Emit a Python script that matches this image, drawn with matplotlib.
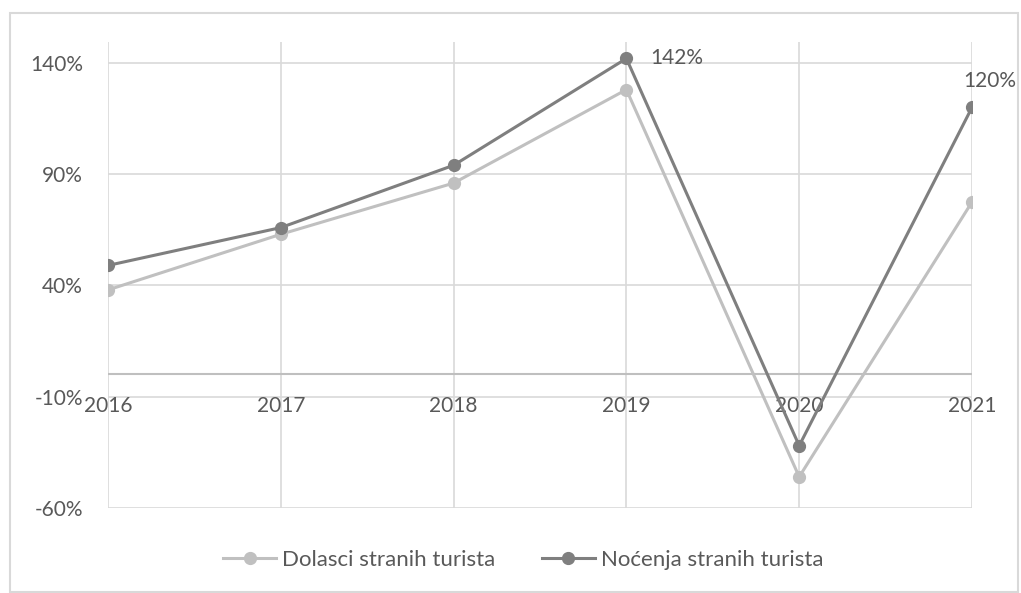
import matplotlib.pyplot as plt
from matplotlib.patches import Rectangle

years = ['2016', '2017', '2018', '2019', '2020', '2021']
dolasci = [38, 63, 86, 128, -46, 77.5]   # Dolasci stranih turista (%)
nocenja = [49, 66, 94, 142, -32, 120]    # Noćenja stranih turista (%)
yticks = [-60, -10, 40, 90, 140]

plt.rcParams['font.family'] = ['Lato', 'DejaVu Sans']

fig = plt.figure(figsize=(10.21, 5.93), dpi=100)
ax = fig.add_axes([108 / 1021, 1 - 508 / 593, (972 - 108) / 1021, (508 - 42) / 593])

# outer chart frame
fig.patches.append(Rectangle((10 / 1021, 0.002), 1008 / 1021, 1 - 13 / 593 - 0.002,
                             transform=fig.transFigure, fill=False,
                             edgecolor='#d9d9d9', linewidth=1.5))

x = list(range(len(years)))
ax.plot(x, dolasci, color='#c0c0c0', lw=2.2, marker='o', ms=8.5,
        label='Dolasci stranih turista', zorder=3)
ax.plot(x, nocenja, color='#7f7f7f', lw=2.2, marker='o', ms=8.5,
        label='Noćenja stranih turista', zorder=4)

ax.set_xlim(0, len(years) - 1)
ax.set_ylim(-60, 149.4)
ax.set_yticks(yticks)
ax.set_yticklabels([f'{v}%' for v in yticks])
ax.set_xticks(x)
ax.set_xticklabels([])
ax.grid(True, color='#d9d9d9', lw=1.2)
ax.set_axisbelow(True)
for s in ax.spines.values():
    s.set_visible(False)
ax.axhline(0, color='#bfbfbf', lw=1.5, zorder=2)
ax.tick_params(axis='both', length=0, labelsize=15, colors='#595959', pad=18)

# category labels sit below the zero line
for i, yr in enumerate(years):
    ax.annotate(yr, (i, 0), xytext=(0, -23), textcoords='offset points',
                ha='center', va='center', fontsize=15, color='#595959')

ax.annotate('142%', (3, nocenja[3]), xytext=(36, 0), textcoords='offset points',
            ha='center', va='center', fontsize=15, color='#595959')
ax.annotate('120%', (5, nocenja[5]), xytext=(13, 19), textcoords='offset points',
            ha='center', va='center', fontsize=15, color='#595959')

leg = fig.legend(loc='center', bbox_to_anchor=(523 / 1021, 1 - 560 / 593), ncol=2,
                 frameon=False, fontsize=16, handlelength=2.4, columnspacing=2.1,
                 handletextpad=0.25)
for t in leg.get_texts():
    t.set_color('#595959')

fig.savefig('out.png', dpi=100)
